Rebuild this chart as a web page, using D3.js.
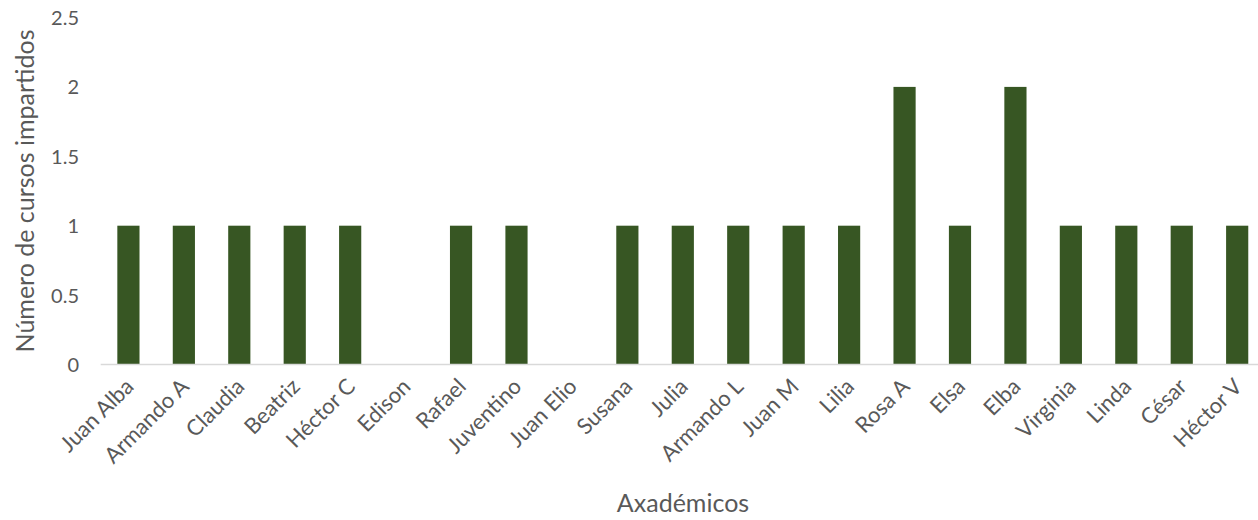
<!DOCTYPE html>
<html>
<head>
<meta charset="utf-8">
<script src="https://cdn.jsdelivr.net/npm/d3@7"></script>
<style>
  html, body { margin: 0; padding: 0; background: #fff; }
  svg, svg text { font-family: "Gill Sans MT", "Gill Sans", Lato, sans-serif; }
  svg { display: block; }
</style>
</head>
<body>
<svg id="chart" width="1258" height="520"></svg>
<script>
const categories = ["Juan Alba", "Armando A", "Claudia", "Beatriz", "Héctor C", "Edison", "Rafael", "Juventino", "Juan Elio", "Susana", "Julia", "Armando L", "Juan M", "Lilia", "Rosa A", "Elsa", "Elba", "Virginia", "Linda", "César", "Héctor V"];
const values = [1, 1, 1, 1, 1, 0, 1, 1, 0, 1, 1, 1, 1, 1, 2, 1, 2, 1, 1, 1, 1];
const yTicks = [0, 0.5, 1, 1.5, 2, 2.5];
const yTitle = "Número de cursos impartidos";
const xTitle = "Axadémicos";

const svg = d3.select("#chart");
const textColor = "#595959";
const FONT = '"Gill Sans MT", "Gill Sans", Lato, sans-serif';

const x = d3.scaleBand().domain(categories).range([100.7, 1264.9]).paddingInner(0.6).paddingOuter(0.3);
const y = d3.scaleLinear().domain([0, 2.5]).range([364.5, 17.5]);

// bars
svg.append("g").selectAll("rect").data(values).join("rect")
  .attr("x", (d, i) => x(categories[i]))
  .attr("y", d => y(d))
  .attr("width", x.bandwidth())
  .attr("height", d => y(0) - y(d))
  .attr("fill", "#375623");

// x axis line
svg.append("line")
  .attr("x1", 100.7).attr("x2", 1258)
  .attr("y1", y(0)).attr("y2", y(0))
  .attr("stroke", "#d9d9d9").attr("stroke-width", 1.5);

// y axis
const yAxis = d3.axisLeft(y).tickValues(yTicks).tickSize(0).tickPadding(0).tickFormat(d => String(d));
const gy = svg.append("g").attr("transform", "translate(79,0)").call(yAxis)
  .attr("font-family", FONT).attr("font-size", 20);
gy.select(".domain").remove();
gy.selectAll("text").attr("fill", textColor).attr("dy", "0.35em");

// x axis labels
const xAxis = d3.axisBottom(x).tickSize(0).tickPadding(0);
const gx = svg.append("g").attr("transform", `translate(0,${y(0)})`).call(xAxis)
  .attr("font-family", FONT).attr("font-size", 22);
gx.select(".domain").remove();
gx.selectAll("text")
  .attr("fill", textColor)
  .attr("text-anchor", "end")
  .attr("dy", null)
  .attr("y", null)
  .attr("transform", "translate(-6,11) rotate(-45)")
  .attr("dominant-baseline", "hanging");

// titles
svg.append("text")
  .attr("transform", `translate(34,${(y(0) + y(2.5)) / 2}) rotate(-90)`)
  .attr("text-anchor", "middle")
  .attr("fill", textColor)
  .attr("font-size", 25)
  .text(yTitle);

svg.append("text")
  .attr("x", 683).attr("y", 512)
  .attr("text-anchor", "middle")
  .attr("fill", textColor)
  .attr("font-size", 25)
  .text(xTitle);
</script>
</body>
</html>
